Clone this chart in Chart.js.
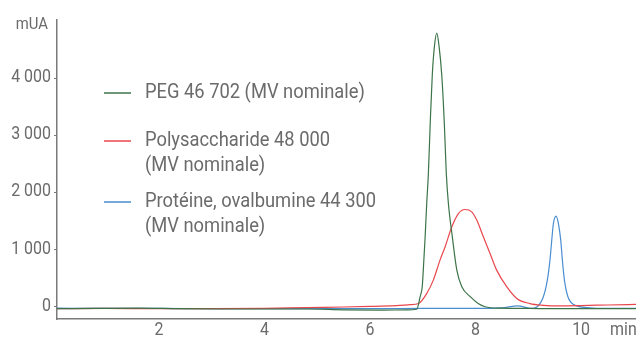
<!DOCTYPE html>
<html lang="fr">
<head>
    <meta charset="UTF-8">
    <title>Chromatogrammes - PEG, polysaccharide, protéine</title>
    <script src="https://cdn.jsdelivr.net/npm/chart.js"></script>
    <style>
        html, body { margin: 0; padding: 0; background: #fff; }
        #chromato { display: block; }
    </style>
</head>
<body>
<canvas id="chromato" width="636" height="339"></canvas>
<script>
    // temps de rétention (min) et signal (mUA) de chaque étalon
    const pegTime = [0.07, 0.8, 1.6, 2.4, 3.2, 4.0, 4.8, 5.5, 6.2, 6.7, 6.885, 6.95, 6.99, 7.01, 7.045, 7.075, 7.105, 7.14, 7.18, 7.22, 7.265, 7.31, 7.36, 7.41, 7.445, 7.485, 7.56, 7.645, 7.74, 7.9, 8.05, 8.18, 8.47, 9.0, 9.5, 10.0, 10.5, 11.04];
    const pegSignal = [-30, -25, -20, -30, -35, -35, -35, -50, -55, -50, -40, 180, 355, 645, 1230, 1815, 2305, 3180, 4055, 4550, 4790, 4550, 4055, 3180, 2350, 1815, 1227, 645, 355, 180, 60, 5, -20, -25, -30, -30, -30, -30];

    const polyTime = [0.07, 1.0, 2.0, 3.0, 4.0, 4.8, 5.5, 6.0, 6.5, 6.76, 6.92, 7.075, 7.2, 7.327, 7.422, 7.549, 7.675, 7.8, 7.928, 8.023, 8.148, 8.275, 8.4, 8.59, 8.78, 9.03, 9.285, 9.6, 10.0, 10.5, 11.04];
    const polySignal = [-30, -25, -30, -30, -25, -10, 0, 10, 25, 40, 60, 235, 470, 820, 1050, 1400, 1635, 1705, 1665, 1520, 1227, 935, 645, 355, 150, 60, 30, 20, 25, 35, 45];

    const protTime = [0.07, 1.0, 2.0, 3.0, 4.0, 5.0, 6.0, 7.0, 8.0, 8.5, 8.8, 9.06, 9.16, 9.285, 9.36, 9.41, 9.444, 9.475, 9.526, 9.57, 9.614, 9.645, 9.684, 9.75, 9.886, 10.11, 10.5, 11.04];
    const protSignal = [-20, -25, -25, -30, -30, -30, -30, -25, -25, -15, 20, -25, 0, 180, 470, 820, 1170, 1460, 1590, 1460, 1170, 820, 470, 180, 30, -10, -25, -25];

    const xTicks = [2, 4, 6, 8, 10];
    const yTicks = [0, 1000, 2000, 3000, 4000];

    const legendLines = [
        ['PEG 46 702 (MV nominale)'],
        ['Polysaccharide 48 000', '(MV nominale)'],
        ['Protéine, ovalbumine 44 300', '(MV nominale)']
    ];

    const colors = ['#3c7448', '#e8474c', '#4a8ed0'];
    const textColor = '#6b6b6b';
    const axisColor = '#7a7a7a';
    const fontFamily = 'Roboto, "Liberation Sans", sans-serif';

    function toPoints(t, s) {
        return t.map((x, i) => ({x: x, y: s[i]}));
    }

    // "4000" -> "4 000"
    function fmt(v) {
        return String(v).replace(/\B(?=(\d{3})+(?!\d))/g, ' ');
    }

    // texte étroit (police condensée simulée par un facteur horizontal)
    function narrowText(ctx, txt, x, y, sx) {
        ctx.save();
        ctx.translate(x, y);
        ctx.scale(sx, 1);
        ctx.fillText(txt, 0, 0);
        ctx.restore();
    }

    // graduations, unités et légende dessinées à la main
    const annotations = {
        id: 'annotations',
        afterDraw(chart) {
            const ctx = chart.ctx;
            const xs = chart.scales.x;
            const ys = chart.scales.y;
            ctx.save();
            ctx.fillStyle = textColor;
            ctx.textBaseline = 'middle';

            ctx.font = '19px ' + fontFamily;
            ctx.textAlign = 'right';
            yTicks.forEach(v => narrowText(ctx, fmt(v), 51, ys.getPixelForValue(v) - 1, 0.84));
            ctx.textAlign = 'center';
            xTicks.forEach(v => narrowText(ctx, fmt(v), xs.getPixelForValue(v), 330, 0.84));
            ctx.textAlign = 'left';
            narrowText(ctx, 'min', 610, 330, 0.84);

            ctx.font = '16.5px ' + fontFamily;
            ctx.textAlign = 'right';
            narrowText(ctx, 'mUA', 48, 25, 0.9);

            const rows = [93, 141, 202];
            ctx.font = '19.5px ' + fontFamily;
            ctx.textAlign = 'left';
            legendLines.forEach((lines, i) => {
                const y = rows[i];
                ctx.strokeStyle = colors[i];
                ctx.lineWidth = 1.5;
                ctx.beginPath();
                ctx.moveTo(104, y);
                ctx.lineTo(131, y);
                ctx.stroke();
                lines.forEach((txt, j) => narrowText(ctx, txt, 145, y + j * 25, 0.94));
            });
            ctx.restore();
        }
    };

    const ctx = document.getElementById('chromato').getContext('2d');
    new Chart(ctx, {
        type: 'line',
        data: {
            datasets: [
                {label: 'PEG', data: toPoints(pegTime, pegSignal), borderColor: colors[0]},
                {label: 'Polysaccharide', data: toPoints(polyTime, polySignal), borderColor: colors[1]},
                {label: 'Protéine', data: toPoints(protTime, protSignal), borderColor: colors[2]}
            ]
        },
        options: {
            responsive: false,
            animation: false,
            devicePixelRatio: 1,
            layout: {padding: {top: 20, right: 0, left: 0, bottom: 0}},
            elements: {
                point: {radius: 0},
                line: {borderWidth: 1.2, cubicInterpolationMode: 'monotone', fill: false}
            },
            plugins: {legend: {display: false}, tooltip: {enabled: false}},
            scales: {
                x: {
                    type: 'linear',
                    min: 0.07,
                    max: 11.04,
                    afterBuildTicks: s => { s.ticks = xTicks.map(v => ({value: v})); },
                    afterFit: s => { s.height = 20; },
                    grid: {drawOnChartArea: false, drawTicks: false},
                    border: {color: axisColor, width: 1.5},
                    ticks: {display: false}
                },
                y: {
                    min: -210,
                    max: 5020,
                    afterBuildTicks: s => { s.ticks = yTicks.map(v => ({value: v})); },
                    afterFit: s => { s.width = 57; },
                    grid: {drawOnChartArea: false, drawTicks: true, tickLength: 3, color: axisColor},
                    border: {color: axisColor, width: 1.5},
                    ticks: {display: false}
                }
            }
        },
        plugins: [annotations]
    });
</script>
</body>
</html>
